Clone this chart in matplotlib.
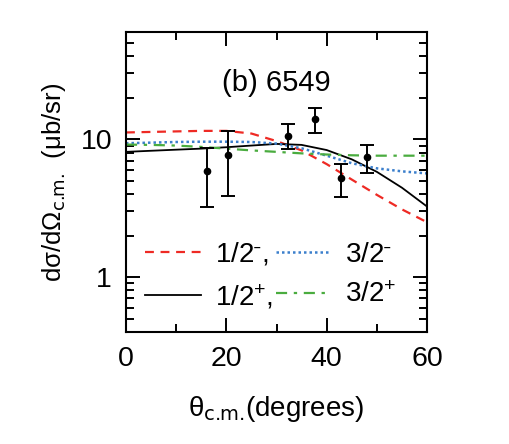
"""
Angular distribution for the 6549 state: data points with DWBA-style curves
for the four spin/parity assignments.
"""
import matplotlib
import matplotlib.pyplot as plt
from matplotlib.ticker import FixedLocator, NullFormatter

matplotlib.use('Agg')

plt.rcParams['font.family'] = ['Liberation Sans', 'DejaVu Sans']
plt.rcParams['mathtext.default'] = 'regular'

# measured points
theta_data = [16.2, 20.4, 32.2, 37.6, 42.9, 48.1]
xs_data = [5.9, 7.7, 10.6, 14.0, 5.2, 7.4]
xs_err_lo = [2.7, 3.8, 2.1, 2.9, 1.4, 1.75]
xs_err_hi = [2.7, 3.8, 2.2, 2.8, 1.45, 1.65]

# calculated curves
theta_calc = [0, 5, 10, 15, 20, 25, 30, 35, 40, 45, 50, 55, 60]
xs_half_minus = [11.2, 11.3, 11.4, 11.5, 11.5, 11.0, 9.7, 8.3, 6.6, 5.1, 3.95, 3.1, 2.5]
xs_half_plus = [8.1, 8.25, 8.4, 8.55, 8.75, 9.0, 9.25, 9.1, 8.35, 7.15, 5.8, 4.45, 3.25]
xs_3half_minus = [9.35, 9.45, 9.55, 9.6, 9.6, 9.55, 9.3, 8.6, 7.6, 6.7, 6.15, 5.85, 5.65]
xs_3half_plus = [9.15, 9.1, 9.0, 8.8, 8.55, 8.3, 8.1, 7.9, 7.75, 7.65, 7.6, 7.6, 7.6]

y_major = [1, 10]
y_minor = [0.4, 0.5, 0.6, 0.7, 0.8, 0.9, 2, 3, 4, 5, 6, 7, 8, 9, 20, 30, 40, 50]

fig = plt.figure(figsize=(5.09, 4.44), dpi=100)
ax = fig.add_axes([0.2475, 0.2523, 0.5915, 0.6757])

ax.plot(theta_calc, xs_half_minus, color='#ee2a24', ls=(0, (4, 3)), lw=1.6,
        label='1/2$^{\u02d7}$,')
ax.plot(theta_calc, xs_half_plus, color='black', ls='-', lw=1.3, label='1/2$^{+}$,')
ax.plot(theta_calc, xs_3half_minus, color='#3b7fcc', ls=(0, (1, 1.2)), lw=1.8,
        label='3/2$^{\u02d7}$')
ax.plot(theta_calc, xs_3half_plus, color='#4aac3f', ls=(0, (5, 3, 1.5, 3)), lw=1.6,
        label='3/2$^{+}$')

ax.errorbar(theta_data, xs_data, yerr=[xs_err_lo, xs_err_hi], fmt='o', color='black',
            ms=4.5, lw=1.4, capsize=5, capthick=1.4, zorder=5)

ax.set_yscale('log')
ax.set_xlim(0, 60)
ax.set_ylim(0.4, 60)
ax.set_xticks([0, 20, 40, 60])
ax.set_xticks([10, 30, 50], minor=True)
ax.yaxis.set_major_locator(FixedLocator(y_major))
ax.yaxis.set_minor_locator(FixedLocator(y_minor))
ax.yaxis.set_minor_formatter(NullFormatter())
ax.set_yticklabels(['1', '10'])

ax.tick_params(which='both', direction='in', top=True, right=True, width=1.4,
               labelsize=20.5, pad=10)
ax.tick_params(which='major', length=10)
ax.tick_params(which='minor', length=5.5)
for sp in ax.spines.values():
    sp.set_linewidth(1.5)

ax.text(0.5, 0.83, '(b) 6549', transform=ax.transAxes, ha='center', va='center', fontsize=21)

ax.set_xlabel(r'$\theta_{\text{c.m.}}$(degrees)', fontsize=20, labelpad=16)
ax.set_ylabel(r'dσ/dΩ$_{\text{c.m.}}$  (μb/sr)', fontsize=18.5, labelpad=9)

ax.legend(ncol=2, loc='lower left', bbox_to_anchor=(0.0, 0.005), frameon=False,
          fontsize=20, handlelength=2.0, handletextpad=0.5, columnspacing=0.1,
          labelspacing=0.52, borderaxespad=0.3)

fig.savefig('out.png', dpi=100)
